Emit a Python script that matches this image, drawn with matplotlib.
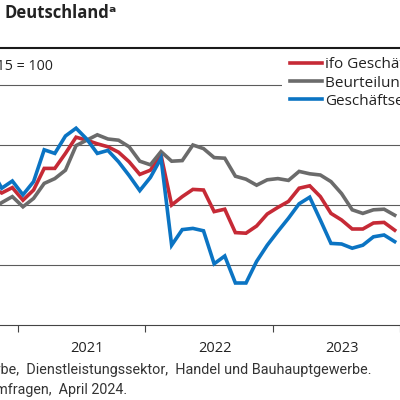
import matplotlib
matplotlib.use("Agg")
import matplotlib.pyplot as plt
import matplotlib.transforms as mtransforms

plt.rcParams['font.family'] = ['Open Sans', 'DejaVu Sans']

# ---- data (Index, 2015 = 100), monthly Oct 2020 .. Dec 2023 ----
months = (["2020-10", "2020-11", "2020-12"]
          + [f"2021-{m:02d}" for m in range(1, 13)]
          + [f"2022-{m:02d}" for m in range(1, 13)]
          + [f"2023-{m:02d}" for m in range(1, 13)])

klima = [93.0, 92.0, 92.9,
         90.8, 92.5, 96.1, 96.1, 98.6, 101.3, 100.8, 100.2, 99.7, 98.8, 97.2, 95.1,
         95.8, 98.3, 90.0, 91.4, 92.6, 92.5, 88.9, 89.3, 85.4, 85.3, 86.5, 88.5,
         89.6, 90.6, 92.8, 93.2, 91.4, 88.6, 87.5, 86.0, 86.0, 87.0, 87.1, 85.8]

lage = [89.2, 90.4, 91.4,
        89.7, 91.1, 93.6, 94.4, 95.8, 99.9, 100.8, 101.7, 101.0, 100.8, 99.7, 97.3,
        96.7, 98.9, 97.3, 97.4, 100.0, 99.4, 97.9, 97.8, 94.8, 94.3, 93.3, 94.2,
        94.4, 94.1, 95.6, 95.2, 95.0, 93.9, 91.9, 89.2, 88.6, 89.2, 89.3, 88.3]

erwartungen = [96.0, 92.8, 94.0,
               91.7, 93.9, 99.2, 98.6, 101.5, 102.8, 101.0, 98.6, 99.1, 97.2, 94.9, 92.4,
               94.6, 97.8, 83.3, 85.9, 86.1, 85.7, 80.2, 81.5, 77.0, 77.0, 80.6, 83.3,
               85.6, 87.8, 90.2, 91.3, 87.5, 83.6, 83.5, 82.8, 83.3, 84.7, 85.0, 83.9]

series_labels = ["ifo Geschäftsklima", "Beurteilung der Geschäftslage", "Geschäftserwartungen"]
years = [2021, 2022, 2023]
y_grid = [80, 90, 100, 110]

# month centre as fractional year
x = [int(m[:4]) + (int(m[5:]) - 0.5) / 12 for m in months]

W = H = 400
fig = plt.figure(figsize=(4, 4), dpi=100)

# axes: bottom axis line at y=325px, top thick rule at y=48px
ax = fig.add_axes([0, (H - 325) / H, 1, (325 - 48) / H])
ax.set_xlim(2021 - 18 / 130, 2021 + 382 / 130)
ax.set_ylim(70, 100 + (145 - 48) / 6)

c_red, c_gray, c_blue = "#c62a36", "#6b6b6b", "#0b74c3"
lw = 2.6
ax.plot(x, klima, color=c_red, lw=lw, label=series_labels[0], solid_joinstyle='miter', zorder=3)
ax.plot(x, lage, color=c_gray, lw=lw, label=series_labels[1], solid_joinstyle='miter', zorder=3)
ax.plot(x, erwartungen, color=c_blue, lw=lw, label=series_labels[2], solid_joinstyle='miter', zorder=3)

ax.set_yticks(y_grid)
ax.yaxis.grid(True, color="#5c5c5c", lw=0.8)
ax.tick_params(axis='y', left=False, labelleft=False)
ax.set_axisbelow(True)

ax.set_xticks(years + [2024])
ax.tick_params(axis='x', direction='out', length=5, width=0.8, color="#444444", labelbottom=False)

for s in ("left", "right"):
    ax.spines[s].set_visible(False)
ax.spines["top"].set_linewidth(1.5)
ax.spines["top"].set_color("#1a1a1a")
ax.spines["top"].set_zorder(4)
ax.spines["bottom"].set_linewidth(0.8)
ax.spines["bottom"].set_color("#444444")

trans = mtransforms.blended_transform_factory(ax.transData, fig.transFigure)
for yr in years:
    ax.text(yr + 0.5 + 6 / 130, (H - 349) / H, str(yr), transform=trans, ha='center', va='center',
            fontsize=10.5, color="#222222")

fs_leg = 11
leg = ax.legend(loc='upper left', bbox_to_anchor=(282 / W, (H - 49) / H),
                bbox_transform=fig.transFigure, fontsize=fs_leg, frameon=True,
                fancybox=False, edgecolor='none', facecolor='white', framealpha=1,
                handlelength=2.05, handletextpad=0.22, labelspacing=0.21,
                borderpad=0.55, borderaxespad=0)
leg.set_zorder(2)
for t in leg.get_texts():
    t.set_color("#222222")

fig.text(5 / W, (H - 13) / H, "Deutschlandᵃ", fontsize=12, fontweight='bold',
         va='center', ha='left', color="#222222")
fig.text(52.7 / W, (H - 67) / H, "Index, 2015 = 100", fontsize=10.3,
         va='center', ha='right', color="#222222")

foot_family = ['Roboto', 'DejaVu Sans']
fig.text(371 / W, (H - 370) / H,
         "ᵃ Verarbeitendes Gewerbe,  Dienstleistungssektor,  Handel und Bauhauptgewerbe.",
         fontsize=10.4, va='center', ha='right', color="#333333", family=foot_family)
fig.text(127 / W, (H - 390) / H, "Quelle: ifo Konjunkturumfragen,  April 2024.",
         fontsize=10.3, va='center', ha='right', color="#333333", family=foot_family)

fig.savefig("out.png", dpi=100)
